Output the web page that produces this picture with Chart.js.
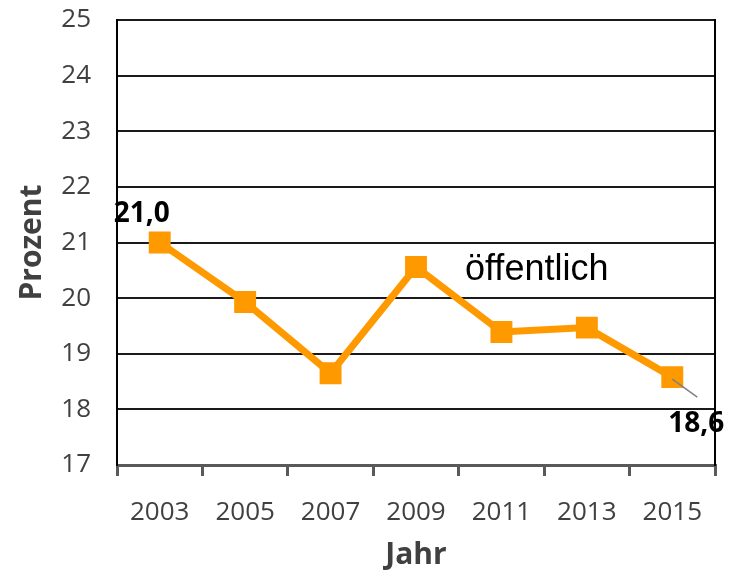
<!DOCTYPE html>
<html><head><meta charset="utf-8">
<script src="https://cdn.jsdelivr.net/npm/chart.js@4"></script>
<style>html,body{margin:0;padding:0;background:#fff;}#wrap{width:730px;height:572px;}</style>
</head><body><div id="wrap"><canvas id="c" width="730" height="572"></canvas></div>
<script>
const years = ['2003','2005','2007','2009','2011','2013','2015'];
const oeffentlich = [21.0, 19.93, 18.65, 20.56, 19.39, 19.47, 18.58];
const labelledIndices = [0, 6];
const seriesName = 'öffentlich';
const yMin = 17, yMax = 25, yStep = 1;

const FONT = "'Open Sans', sans-serif";
const annot = {
  id: 'annot',
  afterDatasetsDraw(chart) {
    const ctx = chart.ctx;
    const meta = chart.getDatasetMeta(0);
    const xs = chart.scales.x, ys = chart.scales.y;
    ctx.save();
    const pl = meta.data[6];
    ctx.strokeStyle = '#808080'; ctx.lineWidth = 1.5;
    ctx.beginPath(); ctx.moveTo(pl.x, pl.y + 2); ctx.lineTo(pl.x + 25, pl.y + 20); ctx.stroke();
    ctx.fillStyle = '#000';
    ctx.font = 'bold 28px ' + FONT;
    ctx.textAlign = 'center'; ctx.textBaseline = 'middle';
    const offs = {0: [-18, -28], 6: [24, 47]};
    labelledIndices.forEach(i => {
      const p = meta.data[i];
      const txt = oeffentlich[i].toFixed(1).replace('.', ',');
      ctx.fillText(txt, p.x + offs[i][0], p.y + offs[i][1]);
    });
    ctx.font = "36px 'Liberation Sans', Arial, sans-serif";
    ctx.textAlign = 'left';
    ctx.fillText(seriesName, xs.getPixelForValue(3) + 49, ys.getPixelForValue(20.5));
    ctx.restore();
  }
};

new Chart(document.getElementById('c'), {
  type: 'line',
  data: {
    labels: years,
    datasets: [{
      label: seriesName,
      data: oeffentlich,
      borderColor: '#FF9900',
      backgroundColor: '#FF9900',
      borderWidth: 7,
      pointStyle: 'rect',
      pointRadius: 15.5,
      pointBorderWidth: 0,
      pointHoverRadius: 15.5,
      tension: 0,
      yAxisID: 'y'
    }]
  },
  options: {
    responsive: false,
    animation: false,
    events: [],
    layout: { autoPadding: false, padding: { left: 0, top: 20, right: 0, bottom: 0 } },
    plugins: { legend: { display: false }, tooltip: { enabled: false } },
    scales: {
      x: {
        offset: true,
        grid: { offset: true, drawOnChartArea: false, drawTicks: true, tickLength: 11, color: '#595959', lineWidth: 3 },
        border: { display: true, color: '#595959', width: 3 },
        ticks: { color: '#404040', font: { family: FONT, size: 26 }, padding: 21, maxRotation: 0 },
        title: { display: true, text: 'Jahr', color: '#404040', font: { family: FONT, size: 30, weight: 'bold' }, padding: { top: 0, bottom: -1 } },
        afterFit(s) { s.height = 107; }
      },
      y: {
        min: yMin, max: yMax,
        ticks: { stepSize: yStep, color: '#404040', font: { family: FONT, size: 26 }, padding: 26 },
        grid: { color: '#1a1a1a', lineWidth: 2, drawTicks: false },
        border: { display: true, color: '#000', width: 2 },
        title: { display: true, text: 'Prozent', color: '#404040', font: { family: FONT, size: 30, weight: 'bold' }, padding: { top: 14, bottom: 0 } },
        afterFit(s) { s.width = 117; s.paddingTop = 0; s.paddingBottom = 0; }
      },
      y2: {
        position: 'right',
        min: yMin, max: yMax,
        ticks: { display: false },
        grid: { drawOnChartArea: false, drawTicks: false },
        border: { display: true, color: '#000', width: 2 },
        afterFit(s) { s.width = 15; s.paddingTop = 0; s.paddingBottom = 0; }
      }
    }
  },
  plugins: [annot]
});
</script>
</body></html>
